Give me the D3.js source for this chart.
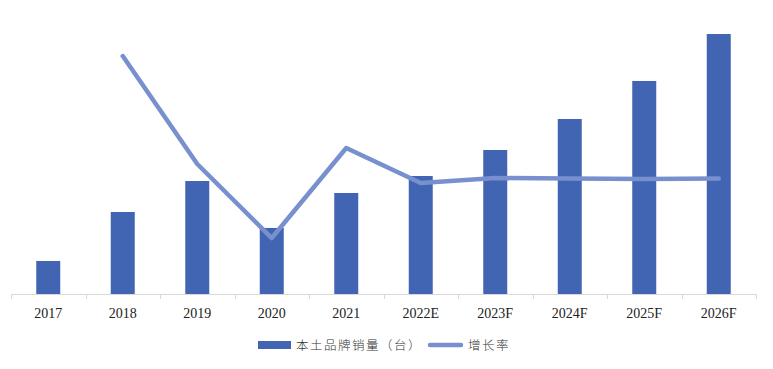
<!DOCTYPE html>
<html lang="zh">
<head>
  <meta charset="UTF-8">
  <title>本土品牌销量与增长率</title>
  <script src="https://d3js.org/d3.v7.min.js"></script>
  <style>
    body { margin: 0; background: #ffffff; }
    svg { display: block; }
    .tick-label { font-family: 'Liberation Serif', 'Times New Roman', serif; font-size: 14px; fill: #222; }
    .legend-text { font-family: 'Noto Sans CJK SC', sans-serif; font-size: 12.5px; font-weight: 300; fill: #333; letter-spacing: 1.5px; }
  </style>
</head>
<body>
  <svg width="773" height="369"></svg>
  <script>
    // data
    const years = ["2017", "2018", "2019", "2020", "2021", "2022E", "2023F", "2024F", "2025F", "2026F"];
    const sales = [34.4, 85.4, 117.7, 68.8, 105.2, 122.9, 150.0, 182.3, 221.9, 270.8];
    const growth = [null, 1.479, 0.354, -0.417, 0.521, 0.156, 0.208, 0.203, 0.198, 0.203];

    const barColor = "#4165B3";
    const lineColor = "#7890CE";

    const svg = d3.select("svg");
    const mLeft = 11, mRight = 756, mTop = 6, mBottom = 294;

    const x = d3.scaleBand().domain(years).range([mLeft, mRight]);
    const yBar = d3.scaleLinear().domain([0, 300]).range([mBottom, mTop]);
    const yLine = d3.scaleLinear().domain([-1, 2]).range([mBottom, mTop]);

    const barW = 24;

    // bars
    svg.selectAll(".bar")
      .data(years)
      .enter()
      .append("rect")
      .attr("class", "bar")
      .attr("x", d => x(d) + x.bandwidth() / 2 - barW / 2)
      .attr("y", (d, i) => yBar(sales[i]))
      .attr("width", barW)
      .attr("height", (d, i) => mBottom - yBar(sales[i]))
      .attr("fill", barColor);

    // x axis
    const axis = svg.append("g").attr("transform", `translate(0,${mBottom})`);
    axis.append("line")
      .attr("x1", mLeft).attr("x2", mRight)
      .attr("y1", 0.5).attr("y2", 0.5)
      .attr("stroke", "#d9d9d9").attr("stroke-width", 1);
    const ticks = years.map(d => x(d)).concat([mRight]);
    axis.selectAll(".tk")
      .data(ticks)
      .enter()
      .append("line")
      .attr("x1", d => Math.round(d) + 0.5).attr("x2", d => Math.round(d) + 0.5)
      .attr("y1", 0).attr("y2", 5)
      .attr("stroke", "#d9d9d9");
    axis.selectAll(".tick-label")
      .data(years)
      .enter()
      .append("text")
      .attr("class", "tick-label")
      .attr("x", d => x(d) + x.bandwidth() / 2)
      .attr("y", 23.5)
      .attr("text-anchor", "middle")
      .text(d => d);

    // growth line
    const pts = years.map((d, i) => ({ year: d, v: growth[i] })).filter(p => p.v !== null);
    const line = d3.line()
      .x(p => x(p.year) + x.bandwidth() / 2)
      .y(p => yLine(p.v));
    svg.append("path")
      .datum(pts)
      .attr("d", line)
      .attr("fill", "none")
      .attr("stroke", lineColor)
      .attr("stroke-width", 4.5)
      .attr("stroke-linecap", "round")
      .attr("stroke-linejoin", "round");

    // legend
    const lg = svg.append("g").attr("transform", "translate(258,345)");
    lg.append("rect")
      .attr("x", 0).attr("y", -4)
      .attr("width", 33).attr("height", 8)
      .attr("fill", barColor);
    lg.append("text")
      .attr("class", "legend-text")
      .attr("x", 38).attr("y", 4.5)
      .text("本土品牌销量（台）");
    lg.append("line")
      .attr("x1", 172).attr("x2", 203)
      .attr("y1", 0).attr("y2", 0)
      .attr("stroke", lineColor)
      .attr("stroke-width", 4.5)
      .attr("stroke-linecap", "round");
    lg.append("text")
      .attr("class", "legend-text")
      .attr("x", 210).attr("y", 4.5)
      .text("增长率");
  </script>
</body>
</html>
